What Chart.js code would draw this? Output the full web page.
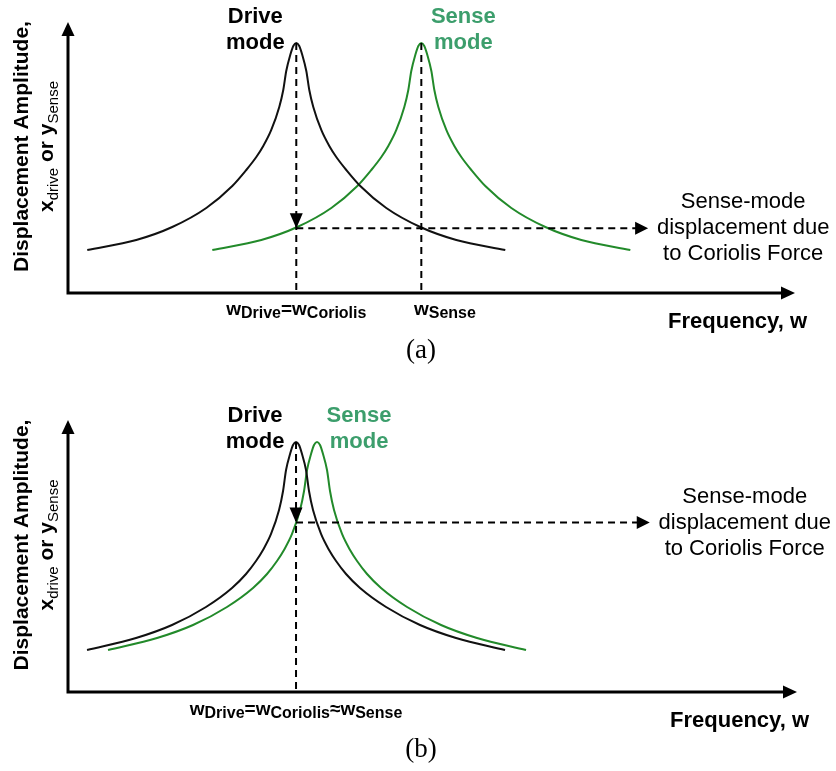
<!DOCTYPE html>
<html lang="en">
<head>
<meta charset="UTF-8" />
<title>Drive and sense mode response</title>
<script src="https://cdn.jsdelivr.net/npm/chart.js"></script>
<style>
  body { margin: 0; background: #ffffff; }
  .panel { position: absolute; left: 0; width: 836px; }
  #panelA { top: 0; height: 385px; }
  #panelB { top: 385px; height: 386px; }
</style>
</head>
<body>
<div class="panel" id="panelA"><canvas id="chartA" width="836" height="385"></canvas></div>
<div class="panel" id="panelB"><canvas id="chartB" width="836" height="386"></canvas></div>

<script>
// (a) resonances far apart
const driveFreqA = [2.65, 9.39, 14.34, 19.02, 22.60, 24.52, 25.90, 26.86, 27.96, 29.06, 29.61, 30.02, 30.57, 30.99, 31.40,
                    31.81, 32.23, 32.78, 33.19, 33.74, 34.84, 35.94, 36.90, 38.28, 40.20, 43.78, 48.46, 53.41, 60.15];
const driveAmpA  = [15.87, 19.56, 24.35, 31.37, 39.48, 45.39, 50.18, 54.24, 60.15, 68.63, 74.91, 81.92, 87.82, 91.14, 92.25,
                    91.14, 87.82, 81.92, 74.91, 68.63, 60.15, 54.24, 50.18, 45.39, 39.48, 31.37, 24.35, 19.56, 15.87];
const senseFreqA = [19.85, 26.59, 31.54, 36.22, 39.80, 41.72, 43.10, 44.06, 45.16, 46.26, 46.81, 47.22, 47.77, 48.19, 48.60,
                    49.01, 49.43, 49.98, 50.39, 50.94, 52.04, 53.14, 54.10, 55.48, 57.40, 60.98, 65.66, 70.61, 77.35];
const senseAmpA  = [15.87, 19.56, 24.35, 31.37, 39.48, 45.39, 50.18, 54.24, 60.15, 68.63, 74.91, 81.92, 87.82, 91.14, 92.25,
                    91.14, 87.82, 81.92, 74.91, 68.63, 60.15, 54.24, 50.18, 45.39, 39.48, 31.37, 24.35, 19.56, 15.87];

// (b) resonances nearly matched
const driveFreqB = [2.61, 9.33, 14.27, 18.93, 22.50, 24.42, 25.79, 26.75, 27.85, 28.95, 29.50, 29.91, 30.46, 30.87, 31.28,
                    31.69, 32.10, 32.65, 33.06, 33.61, 34.71, 35.81, 36.77, 38.14, 40.06, 43.63, 48.29, 53.23, 59.95];
const driveAmpB  = [15.44, 19.85, 24.63, 31.25, 38.24, 43.38, 48.16, 52.21, 58.09, 66.91, 73.90, 81.62, 87.50, 90.81, 91.91,
                    90.81, 87.50, 81.62, 73.90, 66.91, 58.09, 52.21, 48.16, 43.38, 38.24, 31.25, 24.63, 19.85, 15.44];
const senseFreqB = [5.49, 12.21, 17.15, 21.81, 25.38, 27.30, 28.67, 29.63, 30.73, 31.83, 32.38, 32.79, 33.34, 33.75, 34.16,
                    34.57, 34.98, 35.53, 35.94, 36.49, 37.59, 38.69, 39.65, 41.02, 42.94, 46.51, 51.17, 56.11, 62.83];
const senseAmpB  = [15.44, 19.85, 24.63, 31.25, 38.24, 43.38, 48.16, 52.21, 58.09, 66.91, 73.90, 81.62, 87.50, 90.81, 91.91,
                    90.81, 87.50, 81.62, 73.90, 66.91, 58.09, 52.21, 48.16, 43.38, 38.24, 31.25, 24.63, 19.85, 15.44];

// marker values
const wDriveA = 31.4, wSenseA = 48.6, coriolisAmpA = 23.9;
const wDriveB = 31.28, wSensePeakB = 34.16, coriolisAmpB = 62.3;
const arrowTipFreq = 79.8;

const annotationLines = ['Sense-mode', 'displacement due', 'to Coriolis Force'];

const BLACK = '#111111';
const GREEN = '#228a2a';
const GREEN_TEXT = '#3c9e6c';

function toPoints(xs, ys) {
  return xs.map((x, i) => ({ x: x, y: ys[i] }));
}

function arrowHead(ctx, x, y, dir, len, half) {
  ctx.beginPath();
  if (dir === 'up') { ctx.moveTo(x, y); ctx.lineTo(x - half, y + len); ctx.lineTo(x + half, y + len); }
  if (dir === 'down') { ctx.moveTo(x, y); ctx.lineTo(x - half, y - len); ctx.lineTo(x + half, y - len); }
  if (dir === 'right') { ctx.moveTo(x, y); ctx.lineTo(x - len, y - half); ctx.lineTo(x - len, y + half); }
  ctx.closePath();
  ctx.fill();
}

// draws mixed runs of text (for subscripts), align 'center' or 'left'
function drawRuns(ctx, runs, x, y, align) {
  let total = 0;
  runs.forEach(r => { ctx.font = r.font; r.w = ctx.measureText(r.t).width; total += r.w; });
  let cx = align === 'center' ? x - total / 2 : x;
  ctx.textAlign = 'left';
  runs.forEach(r => {
    ctx.font = r.font;
    ctx.fillText(r.t, cx, y + (r.dy || 0));
    cx += r.w;
  });
}

const MAIN = 'bold 19px "Liberation Sans", Arial, sans-serif';
const SUB = 'bold 16px "Liberation Sans", Arial, sans-serif';
const LABEL = 'bold 22px "Liberation Sans", Arial, sans-serif';

const schematic = {
  id: 'schematic',
  afterDatasetsDraw(chart, args, opts) {
    const ctx = chart.ctx;
    const area = chart.chartArea;
    const xs = chart.scales.x, ys = chart.scales.y;
    ctx.save();
    ctx.fillStyle = '#000';
    ctx.strokeStyle = '#000';

    // axes with arrow heads
    ctx.lineWidth = 3;
    ctx.beginPath();
    ctx.moveTo(area.left, area.top + 10);
    ctx.lineTo(area.left, area.bottom);
    ctx.lineTo(area.right - 10, area.bottom);
    ctx.stroke();
    arrowHead(ctx, area.left, area.top, 'up', 14, 6.5);
    arrowHead(ctx, area.right, area.bottom, 'right', 14, 6.5);

    const dx = xs.getPixelForValue(opts.wDrive);
    const peakY = ys.getPixelForValue(opts.peak);
    const cy = ys.getPixelForValue(opts.coriolis);
    const tipX = xs.getPixelForValue(arrowTipFreq);

    // dashed guides
    ctx.lineWidth = 2;
    ctx.setLineDash([7, 5]);
    ctx.beginPath();
    ctx.moveTo(dx, peakY);
    ctx.lineTo(dx, area.bottom);
    if (opts.wSense !== undefined) {
      const sx = xs.getPixelForValue(opts.wSense);
      ctx.moveTo(sx, peakY);
      ctx.lineTo(sx, area.bottom);
    }
    ctx.moveTo(dx, cy);
    ctx.lineTo(tipX - 12, cy);
    ctx.stroke();
    ctx.setLineDash([]);
    arrowHead(ctx, dx, cy, 'down', 15, 6.5);
    arrowHead(ctx, tipX, cy, 'right', 13, 6.5);

    // annotation
    ctx.font = '22px "Liberation Sans", Arial, sans-serif';
    ctx.textAlign = 'center';
    const ax = tipX + 95;
    ctx.fillText(annotationLines[0], ax, cy - 20);
    ctx.fillText(annotationLines[1], ax, cy + 6);
    ctx.fillText(annotationLines[2], ax, cy + 32);

    // mode labels
    ctx.font = LABEL;
    ctx.fillText('Drive', dx - 41, peakY - 20);
    ctx.fillText('mode', dx - 41, peakY + 6);
    ctx.fillStyle = GREEN_TEXT;
    const senseLabelX = xs.getPixelForValue(opts.sensePeak) + 42;
    ctx.fillText('Sense', senseLabelX, peakY - 20);
    ctx.fillText('mode', senseLabelX, peakY + 6);
    ctx.fillStyle = '#000';

    // frequency tick labels
    const tickY = area.bottom + 22;
    if (opts.wSense !== undefined) {
      drawRuns(ctx, [
        { t: 'w', font: MAIN }, { t: 'Drive', font: SUB, dy: 3 },
        { t: '=', font: MAIN }, { t: 'w', font: MAIN }, { t: 'Coriolis', font: SUB, dy: 3 }
      ], dx, tickY, 'center');
      ctx.font = MAIN;
      const ww = ctx.measureText('w').width;
      drawRuns(ctx, [{ t: 'w', font: MAIN }, { t: 'Sense', font: SUB, dy: 3 }],
        xs.getPixelForValue(opts.wSense) - ww / 2, tickY, 'left');
    } else {
      drawRuns(ctx, [
        { t: 'w', font: MAIN }, { t: 'Drive', font: SUB, dy: 3 },
        { t: '=', font: MAIN }, { t: 'w', font: MAIN }, { t: 'Coriolis', font: SUB, dy: 3 },
        { t: '\u2248', font: MAIN }, { t: 'w', font: MAIN }, { t: 'Sense', font: SUB, dy: 3 }
      ], dx, tickY + 1, 'center');
    }

    // x axis title
    ctx.font = LABEL;
    ctx.textAlign = 'right';
    ctx.fillText('Frequency, w', area.right + 12, area.bottom + 35);

    // panel caption
    ctx.font = '27px "Liberation Serif", "Times New Roman", serif';
    ctx.textAlign = 'center';
    ctx.fillText(opts.caption, 421, area.bottom + 65);

    // y axis title, rotated
    const midY = (area.top + area.bottom) / 2 - 11;
    ctx.save();
    ctx.translate(28, midY);
    ctx.rotate(-Math.PI / 2);
    ctx.font = 'bold 21px "Liberation Sans", Arial, sans-serif';
    ctx.textAlign = 'center';
    ctx.fillText('Displacement Amplitude,', 0, 0);
    ctx.restore();
    ctx.save();
    ctx.translate(53, midY);
    ctx.rotate(-Math.PI / 2);
    const big = 'bold 21px "Liberation Sans", Arial, sans-serif';
    const small = '15px "Liberation Sans", Arial, sans-serif';
    drawRuns(ctx, [
      { t: 'x', font: big }, { t: 'drive', font: small, dy: 5 },
      { t: ' or ', font: big }, { t: 'y', font: big }, { t: 'Sense', font: small, dy: 5 }
    ], 0, 0, 'center');
    ctx.restore();

    ctx.restore();
  }
};

function makeChart(id, driveX, driveY, senseX, senseY, padding, extra) {
  return new Chart(document.getElementById(id), {
    type: 'line',
    data: {
      datasets: [
        { label: 'Drive mode', data: toPoints(driveX, driveY), borderColor: BLACK, borderWidth: 2, pointRadius: 0, cubicInterpolationMode: 'monotone' },
        { label: 'Sense mode', data: toPoints(senseX, senseY), borderColor: GREEN, borderWidth: 2, pointRadius: 0, cubicInterpolationMode: 'monotone' }
      ]
    },
    options: {
      responsive: false,
      animation: false,
      layout: { padding: padding },
      scales: {
        x: { type: 'linear', min: 0, max: 100, display: false },
        y: { type: 'linear', min: 0, max: 100, display: false }
      },
      plugins: {
        legend: { display: false },
        tooltip: { enabled: false },
        schematic: extra
      }
    },
    plugins: [schematic]
  });
}

makeChart('chartA', driveFreqA, driveAmpA, senseFreqA, senseAmpA,
  { left: 68, right: 41, top: 22, bottom: 92 },
  { wDrive: wDriveA, wSense: wSenseA, sensePeak: wSenseA, coriolis: coriolisAmpA, peak: Math.max(...driveAmpA), caption: '(a)' });

makeChart('chartB', driveFreqB, driveAmpB, senseFreqB, senseAmpB,
  { left: 68, right: 39, top: 35, bottom: 79 },
  { wDrive: wDriveB, sensePeak: wSensePeakB, coriolis: coriolisAmpB, peak: Math.max(...driveAmpB), caption: '(b)' });
</script>
</body>
</html>
